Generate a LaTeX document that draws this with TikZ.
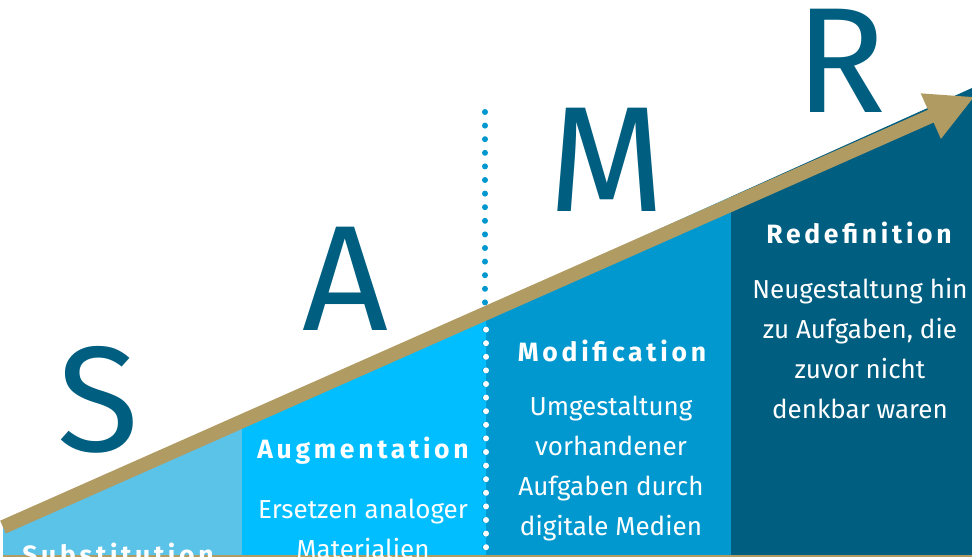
\documentclass[tikz,border=0pt]{standalone}
\usepackage{fontspec}
\setmainfont{Fira Sans}
\newfontfamily\titlefont[LetterSpace=14]{Fira Sans}
\usetikzlibrary{arrows.meta,positioning}
\definecolor{samrdark}{RGB}{0,94,128}
\definecolor{samrmid}{RGB}{0,152,206}
\definecolor{samrbright}{RGB}{0,190,255}
\definecolor{samrlight}{RGB}{91,194,232}
\definecolor{samrgold}{RGB}{176,155,98}

\begin{document}
\begin{tikzpicture}[x=1pt,y=-1pt,
                    letter/.style={text=samrdark, inner sep=0, anchor=base,
                                   font=\fontsize{150}{150}\selectfont},
                    title/.style={text=white, inner sep=0, anchor=base,
                                  font=\titlefont\bfseries\fontsize{26.5}{26.5}\selectfont},
                    body/.style={text=white, inner sep=0, anchor=base, align=center,
                                 font=\fontsize{26}{40}\selectfont},
                    dots/.style={line width=6pt, line cap=round, dash pattern=on 0pt off 13.6pt},
                   ]

\useasboundingbox (0,0) rectangle (972,557);
\clip (0,0) rectangle (972,557);

% columns below the arrow
\begin{scope}
\clip (3,525) -- (972,88) -- (972,557) -- (3,557) -- cycle;
\fill[samrlight]  (3,0)   rectangle (242,557);
\fill[samrbright] (242,0) rectangle (486,557);
\fill[samrmid]    (486,0) rectangle (731,557);
\fill[samrdark]   (731,0) rectangle (972,557);
\end{scope}

\draw[dots, samrmid] (485,112) -- (485,557);
\begin{scope}
\clip (3,530) -- (972,92) -- (972,557) -- (3,557) -- cycle;
\draw[dots, white] (486,112) -- (486,557);
\end{scope}

\fill[samrgold] (3,554.5) rectangle (972,557);

% big letters
\node[letter] (lS) at (98,451) {S};
\node[letter] (lA) at (345,330) {A};
\node[letter] (lM) at (607,211) {M};
\node[letter] (lR) at (841,112) {R};

\draw[samrgold, line width=14pt, -{Triangle[width=46pt,length=48pt]}] (3,527.1) -- (974.7,96.7);

% stages
\node[title] (tSub) at (118,564) {Substitution};
\node[title] (tAug) at (363,458) {Augmentation};
\node[title] (tMod) at (612,361) {Modification};
\node[title] (tRed) at (859,243) {Redefinition};

% anchor base = last line
\node[body] (dAug) at (363,558) {Ersetzen analoger\\Materialien};
\node[body] (dMod) at (611,535) {Umgestaltung\\vorhandener\\Aufgaben durch\\digitale Medien};
\node[body] (dRed) at (860,418) {Neugestaltung hin\\zu Aufgaben, die\\zuvor nicht\\denkbar waren};

\end{tikzpicture}
\end{document}
